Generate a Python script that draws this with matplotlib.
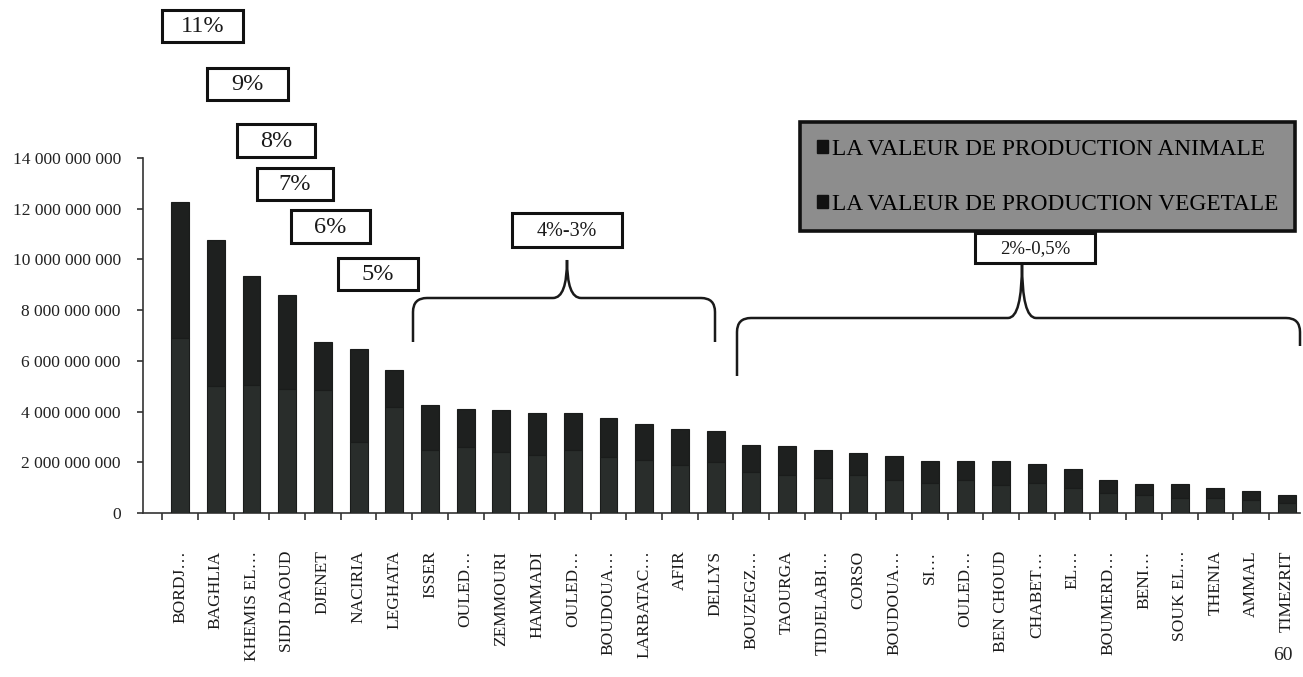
import matplotlib
matplotlib.use("Agg")
import matplotlib.pyplot as plt
import matplotlib.transforms as mtransforms
from matplotlib.patches import Rectangle, Patch, PathPatch
from matplotlib.path import Path
from matplotlib.ticker import FixedLocator

# Communes (wilaya de Boumerdès), sorted by total production value
communes = [
    "BORDJ…", "BAGHLIA", "KHEMIS EL…", "SIDI DAOUD", "DJENET", "NACIRIA",
    "LEGHATA", "ISSER", "OULED…", "ZEMMOURI", "HAMMADI", "OULED…",
    "BOUDOUA…", "LARBATAC…", "AFIR", "DELLYS", "BOUZEGZ…", "TAOURGA",
    "TIDJELABI…", "CORSO", "BOUDOUA…", "SI…", "OULED…", "BEN CHOUD",
    "CHABET…", "EL…", "BOUMERD…", "BENI…", "SOUK EL…", "THENIA", "AMMAL",
    "TIMEZRIT",
]

# Production value (DA), vegetal part (lower segment)
valeur_vegetale = [
    6.90e9, 5.00e9, 5.05e9, 4.90e9, 4.85e9, 2.80e9, 4.20e9, 2.50e9,
    2.60e9, 2.40e9, 2.30e9, 2.50e9, 2.20e9, 2.10e9, 1.90e9, 2.00e9,
    1.60e9, 1.50e9, 1.40e9, 1.50e9, 1.30e9, 1.20e9, 1.30e9, 1.10e9,
    1.20e9, 1.00e9, 0.80e9, 0.70e9, 0.60e9, 0.60e9, 0.50e9, 0.40e9,
]

# Production value (DA), animal part (upper segment)
valeur_animale = [
    5.35e9, 5.75e9, 4.30e9, 3.70e9, 1.90e9, 3.65e9, 1.45e9, 1.75e9,
    1.50e9, 1.68e9, 1.65e9, 1.43e9, 1.55e9, 1.40e9, 1.43e9, 1.22e9,
    1.10e9, 1.15e9, 1.07e9, 0.85e9, 0.93e9, 0.86e9, 0.74e9, 0.95e9,
    0.75e9, 0.72e9, 0.52e9, 0.46e9, 0.53e9, 0.38e9, 0.38e9, 0.32e9,
]

y_ticks = [0, 2e9, 4e9, 6e9, 8e9, 10e9, 12e9, 14e9]
y_tick_labels = ["0", "2 000 000 000", "4 000 000 000", "6 000 000 000",
                 "8 000 000 000", "10 000 000 000", "12 000 000 000",
                 "14 000 000 000"]

legend_labels = ["LA VALEUR DE PRODUCTION ANIMALE",
                 "LA VALEUR DE PRODUCTION VEGETALE"]

# Share groups shown above the bars
parts_simples = ["11%", "9%", "8%", "7%", "6%", "5%"]
part_groupe_moyen = "4%-3%"
part_groupe_bas = "2%-0,5%"

SERIF = ["Liberation Serif", "DejaVu Serif"]
W, H = 1303, 677

fig = plt.figure(figsize=(W / 100, H / 100), dpi=100)
fig.patch.set_facecolor("white")

ax = fig.add_axes([143 / W, 1 - 513 / H, (1300 - 143) / W, (513 - 158) / H])
ax.set_facecolor("none")

x = list(range(len(communes)))
ax.bar(x, valeur_vegetale, width=0.5, color="#292d2b", edgecolor="#1a1c1b",
       linewidth=0.8, zorder=3)
ax.bar(x, valeur_animale, bottom=valeur_vegetale, width=0.5,
       color="#1e201f", edgecolor="#1a1c1b", linewidth=0.8, zorder=3)

ax.set_xlim(-1.04, 31.37)
ax.set_ylim(0, 14e9)

for side in ("top", "right"):
    ax.spines[side].set_visible(False)
for side in ("left", "bottom"):
    ax.spines[side].set_color("#333333")
    ax.spines[side].set_linewidth(1.2)

ax.set_yticks(y_ticks)
ax.set_yticklabels(y_tick_labels, family=SERIF, fontsize=12.5,
                   color="#222222")
ax.tick_params(axis="y", direction="out", length=4, width=1.2,
               color="#333333", pad=12)

ax.set_xticks(x)
ax.set_xticklabels(communes, rotation=90, family=SERIF, fontsize=12.5,
                   color="#1a1a1a", va="top", ha="center")
ax.tick_params(axis="x", which="major", length=0, pad=27)
ax.xaxis.set_minor_locator(FixedLocator([i + 0.5 for i in range(-1, len(x))]))
ax.tick_params(axis="x", which="minor", direction="out", length=5, width=1.2,
               color="#333333")

# pixel-space transform (origin top-left) for the decorations
px = mtransforms.Affine2D().scale(1 / W, -1 / H).translate(0, 1) + fig.transFigure


def boite(x0, x1, y0, y1, texte, taille, face="white", lw=2.2):
    fig.patches.append(Rectangle((x0, y1), x1 - x0, y0 - y1, transform=px,
                                 facecolor=face, edgecolor="#111111",
                                 linewidth=lw, zorder=5))
    if texte:
        fig.text((x0 + x1) / 2, (y0 + y1) / 2 + 1, texte, transform=px,
                 ha="center", va="center", family=SERIF, fontsize=taille,
                 color="#1a1a1a", zorder=6)


boxes = [(162, 243, 10, 42), (207, 288, 68, 100), (237, 315, 124, 157),
         (257, 333, 168, 200), (291, 370, 210, 243), (338, 418, 258, 290)]
for (x0, x1, y0, y1), lab in zip(boxes, parts_simples):
    boite(x0, x1, y0, y1, lab, 17.5)

boite(512, 622, 213, 247, part_groupe_moyen, 14.5)


def accolade(xg, yg, xd, yd, yh, xc, yc, r=14):
    verts = [(xg, yg), (xg, yh + r), (xg, yh), (xg + r, yh),
             (xc - r, yh), (xc, yh), (xc, yc),
             (xc, yh), (xc + r, yh),
             (xd - r, yh), (xd, yh), (xd, yh + r), (xd, yd)]
    codes = [Path.MOVETO, Path.LINETO, Path.CURVE3, Path.CURVE3,
             Path.LINETO, Path.CURVE3, Path.CURVE3,
             Path.CURVE3, Path.CURVE3,
             Path.LINETO, Path.CURVE3, Path.CURVE3, Path.LINETO]
    fig.patches.append(PathPatch(Path(verts, codes), transform=px,
                                 facecolor="none", edgecolor="#1a1a1a",
                                 linewidth=1.8, zorder=4))


accolade(413, 342, 715, 342, 298, 567, 260)
accolade(737, 376, 1300, 346, 318, 1022, 263)

# legend box (grey panel) with the two series
handles = [Patch(facecolor="#111111", edgecolor="#111111"),
           Patch(facecolor="#111111", edgecolor="#111111")]
leg = fig.legend(handles, legend_labels, loc="upper left",
                 bbox_to_anchor=(800 / W, 1 - 122 / H),
                 bbox_transform=fig.transFigure, borderaxespad=0,
                 prop={"family": SERIF, "size": 16.8}, handlelength=0.5,
                 handleheight=0.5, handletextpad=0.15, labelspacing=1.45,
                 borderpad=0.72, frameon=True, fancybox=False)
frame = leg.get_frame()
frame.set_facecolor("#8d8d8d")
frame.set_edgecolor("#111111")
frame.set_linewidth(2.6)
frame.set_alpha(1)

boite(975, 1095, 233, 263, part_groupe_bas, 13.5)

fig.text(1283, 655, "60", transform=px, ha="center", va="center",
         family=SERIF, fontsize=14, color="#222222")

fig.savefig("out.png", dpi=100, facecolor="white")
